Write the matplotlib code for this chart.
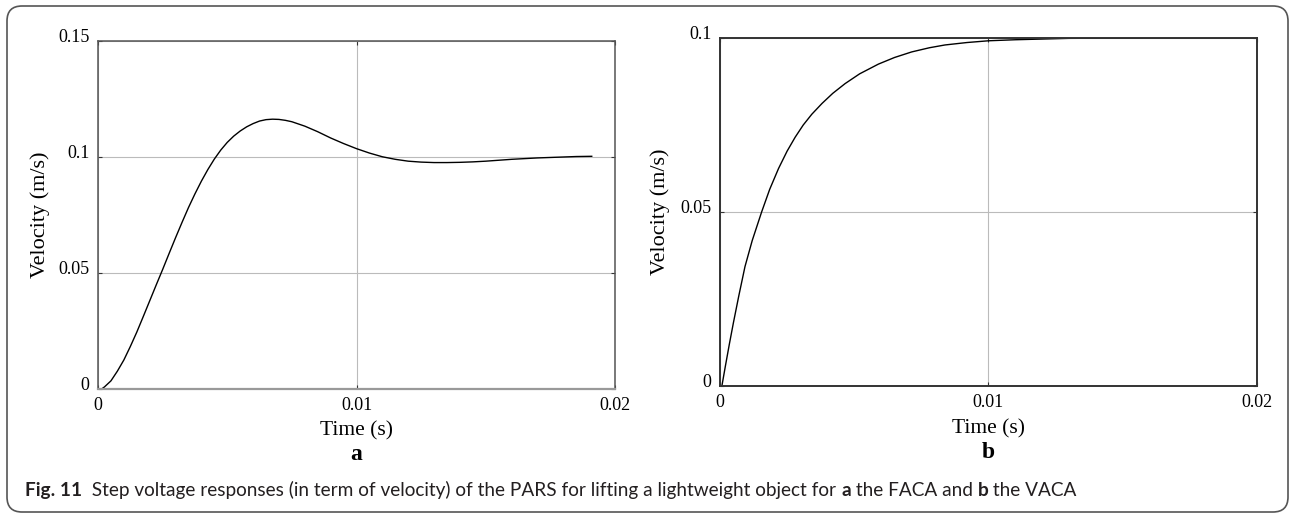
import matplotlib

matplotlib.use("Agg")
import matplotlib.pyplot as plt
import matplotlib.transforms as mtransforms
from matplotlib.patches import FancyBboxPatch

# --- data (time in ms, velocity in m/s) ---
t_a_ms = [0.0, 0.14, 0.25, 0.5, 0.75, 1.0, 1.25, 1.5, 1.75, 2.0, 2.25, 2.5,
          2.75, 3.0, 3.25, 3.5, 3.75, 4.0, 4.25, 4.5, 4.75, 5.0, 5.25, 5.5,
          5.75, 6.0, 6.25, 6.5, 6.75, 7.0, 7.25, 7.5, 8.0, 8.5, 9.0, 9.5,
          10.0, 10.5, 11.0, 11.5, 12.0, 12.5, 13.0, 13.5, 14.0, 14.5, 15.0,
          15.5, 16.0, 16.5, 17.0, 17.5, 18.0, 18.5, 19.1]
v_a = [0.0, 0.0, 0.0009, 0.0035, 0.0077, 0.0125, 0.0183, 0.0245, 0.0312,
       0.0380, 0.0448, 0.0515, 0.0584, 0.0652, 0.0718, 0.0782, 0.0841,
       0.0896, 0.0946, 0.0991, 0.1030, 0.1063, 0.1090, 0.1112, 0.1130,
       0.1144, 0.1155, 0.1161, 0.1163, 0.1162, 0.1158, 0.1152, 0.1133,
       0.1109, 0.1082, 0.1058, 0.1036, 0.1017, 0.1001, 0.0990, 0.0982,
       0.0978, 0.0976, 0.0976, 0.0977, 0.0979, 0.0982, 0.0986, 0.0990,
       0.0993, 0.0996, 0.0998, 0.1000, 0.1002, 0.1003]

t_b_ms = [0.07, 0.2, 0.35, 0.5, 0.7, 0.93, 1.2, 1.55, 1.85, 2.18, 2.5, 2.8,
          3.1, 3.42, 3.8, 4.2, 4.66, 5.2, 5.9, 6.5, 7.14, 7.8, 8.38, 9.2,
          10.0, 11.0, 12.0, 13.0, 14.5, 16.0, 18.0, 20.0]
v_b = [0.0, 0.0057, 0.0121, 0.0182, 0.0259, 0.0343, 0.0418, 0.0500, 0.0565,
       0.0625, 0.0675, 0.0715, 0.0750, 0.0781, 0.0812, 0.0841, 0.0869,
       0.0897, 0.0925, 0.0944, 0.0960, 0.0972, 0.0980, 0.0987, 0.0992,
       0.0995, 0.0997, 0.0999, 0.09995, 0.1000, 0.1000, 0.1000]

xticks = [0, 0.01, 0.02]
xtick_labels = ["0", "0.01", "0.02"]
yticks_a = [0, 0.05, 0.1, 0.15]
ytick_labels_a = ["0", "0.05", "0.1", "0.15"]
yticks_b = [0, 0.05, 0.1]
ytick_labels_b = ["0", "0.05", "0.1"]

t_a = [t / 1000 for t in t_a_ms]
t_b = [t / 1000 for t in t_b_ms]

W, H, DPI = 1290, 514, 100
SERIF = ["Liberation Serif", "DejaVu Serif"]

fig = plt.figure(figsize=(W / DPI, H / DPI), dpi=DPI)


def px_axes(x0, y0, x1, y1):
    # axes rectangle given in pixel coords measured from the top-left corner
    return fig.add_axes([x0 / W, 1 - y1 / H, (x1 - x0) / W, (y1 - y0) / H])


def style(ax, yticks, ylabels, ymax, spine_col):
    ax.set_xlim(0, 0.02)
    ax.set_ylim(0, ymax)
    ax.set_xticks(xticks)
    ax.set_xticklabels(xtick_labels, family=SERIF, fontsize=13)
    ax.set_yticks(yticks)
    ax.set_yticklabels(ylabels, family=SERIF, fontsize=13)
    ax.tick_params(direction="in", top=True, right=True, length=3,
                   width=0.8, color="#333333")
    ax.tick_params(axis="x", pad=6)
    ax.tick_params(axis="y", pad=6)
    ax.grid(True, color="#bbbbbb", lw=0.8)
    ax.set_axisbelow(True)
    for s in ax.spines.values():
        s.set_color(spine_col)
        s.set_linewidth(1.1)
    # y tick labels sit a little above their ticks in the original
    up = mtransforms.ScaledTranslation(0, 5.5 / DPI, fig.dpi_scale_trans)
    for lab in ax.get_yticklabels():
        lab.set_transform(lab.get_transform() + up)


ax1 = px_axes(98, 41, 615, 389)
ax1.plot(t_a, v_a, color="black", lw=1.0)
style(ax1, yticks_a, ytick_labels_a, 0.15, "#555555")
ax1.spines["bottom"].set_color("#999999")
ax1.spines["bottom"].set_linewidth(1.6)

ax2 = px_axes(720, 38, 1257, 386)
ax2.plot(t_b, v_b, color="black", lw=1.0)
style(ax2, yticks_b, ytick_labels_b, 0.1, "#333333")
for s in ax2.spines.values():
    s.set_linewidth(1.4)

# axis labels and panel letters
fig.text(40 / W, 1 - 215 / H, "Velocity (m/s)", rotation=90, ha="center",
         va="center", family=SERIF, fontsize=16)
fig.text(660 / W, 1 - 212 / H, "Velocity (m/s)", rotation=90, ha="center",
         va="center", family=SERIF, fontsize=16)
fig.text(356 / W, 1 - 431 / H, "Time (s)", ha="center", va="center",
         family=SERIF, fontsize=15.5)
fig.text(988 / W, 1 - 429 / H, "Time (s)", ha="center", va="center",
         family=SERIF, fontsize=15.5)
fig.text(356 / W, 1 - 455 / H, "a", ha="center", va="center",
         family=SERIF, fontsize=17, weight="bold")
fig.text(988 / W, 1 - 452 / H, "b", ha="center", va="center",
         family=SERIF, fontsize=17, weight="bold")

# caption with mixed weights
caption = [
    ("Fig. 11", "bold"),
    ("  Step voltage responses (in term of velocity) of the PARS for lifting "
     "a lightweight object for ", "normal"),
    ("a", "bold"),
    (" the FACA and ", "normal"),
    ("b", "bold"),
    (" the VACA", "normal"),
]
renderer = fig.canvas.get_renderer()


def draw_caption(size):
    x = 25
    items = []
    for txt, wt in caption:
        t = fig.text(x / W, 1 - 496 / H, txt, ha="left", va="baseline",
                     family=["Lato", "DejaVu Sans"], weight=wt, fontsize=size,
                     color="#231f20")
        x = t.get_window_extent(renderer).x1
        items.append(t)
    return items, x


items, xend = draw_caption(11)
size = 11 * (1073 - 25) / (xend - 25)
for t in items:
    t.remove()
draw_caption(size)

# rounded frame around the whole figure
frame = FancyBboxPatch((7 / DPI, 2 / DPI), (1288 - 7) / DPI, (508 - 2) / DPI,
                       boxstyle="round,pad=0,rounding_size=0.15",
                       transform=fig.dpi_scale_trans, fill=False,
                       edgecolor="#555555", lw=1.2)
fig.patches.append(frame)

fig.savefig("out.png", dpi=DPI)
